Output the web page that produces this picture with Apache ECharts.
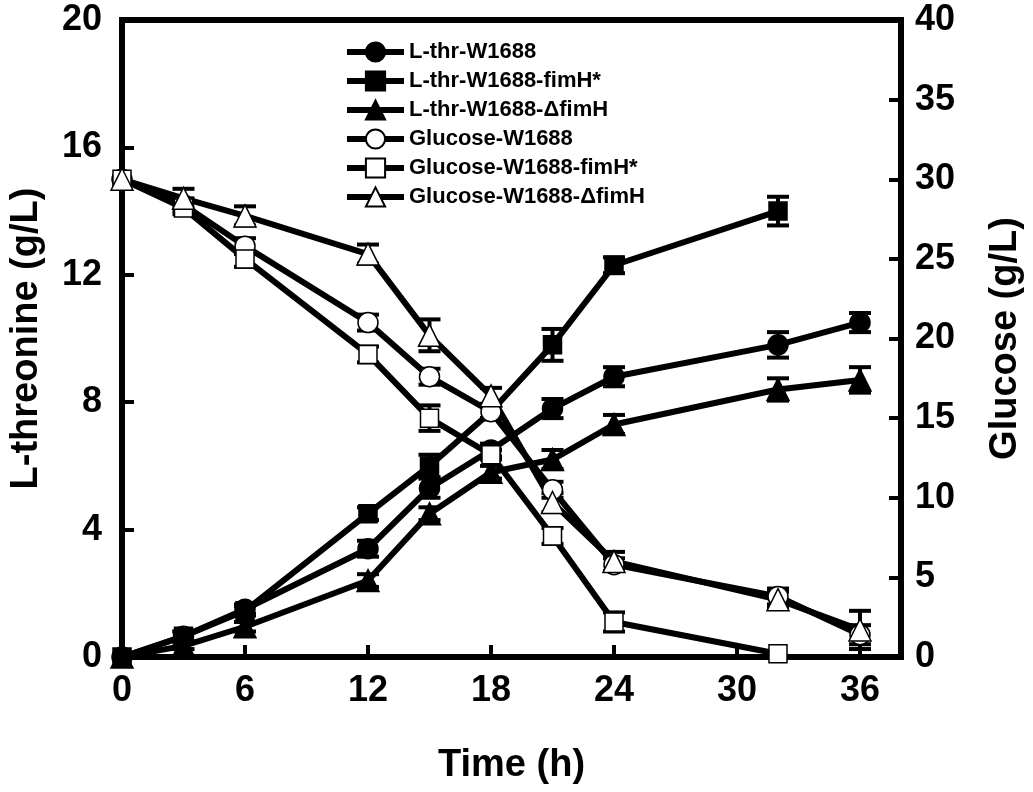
<!DOCTYPE html>
<html>
<head>
<meta charset="utf-8">
<script src="https://cdn.jsdelivr.net/npm/echarts@6/dist/echarts.min.js"></script>
<style>
  html, body { margin: 0; padding: 0; background: #fff; }
  #chart { width: 1033px; height: 792px; }
</style>
</head>
<body>
<div id="chart"></div>
<script>
// 采样时间 (h)
var times = [0, 3, 6, 12, 15, 18, 21, 24, 32, 36];

// L-苏氨酸 (g/L)
var thrW1688 = [0, 0.65, 1.5, 3.4, 5.3, 6.5, 7.8, 8.8, 9.8, 10.5];
var thrFimH = [0, 0.65, 1.45, 4.5, 6.0, 7.7, 9.8, 12.3, 14.0, null];
var thrDelta = [0, 0.35, 0.95, 2.4, 4.5, 5.8, 6.2, 7.3, 8.4, 8.7];
var thrW1688Err = [0, 0.15, 0.15, 0.25, 0.3, 0.2, 0.3, 0.3, 0.4, 0.3];
var thrFimHErr = [0, 0.15, 0.15, 0.2, 0.35, 0.2, 0.5, 0.25, 0.45, null];
var thrDeltaErr = [0, 0.1, 0.15, 0.2, 0.2, 0.2, 0.3, 0.3, 0.35, 0.4];

// 葡萄糖 (g/L)
var gluW1688 = [30, 28.4, 25.8, 21.0, 17.6, 15.4, 10.5, 5.8, 3.8, 1.4];
var gluFimH = [30, 28.2, 25.0, 19.0, 15.0, 12.7, 7.6, 2.2, 0.2, null];
var gluDelta = [30, 28.8, 27.7, 25.3, 20.2, 16.4, 9.7, 6.0, 3.6, 1.7];
var gluW1688Err = [0, 0.4, 0.5, 0.5, 0.5, 0.4, 0.5, 0.4, 0.5, 0.6];
var gluFimHErr = [0, 0.4, 0.5, 0.5, 0.8, 0.3, 0.5, 0.6, 0, null];
var gluDeltaErr = [0, 0.6, 0.6, 0.6, 1.0, 0.5, 0.6, 0.6, 0.5, 1.2];

var names = ['L-thr-W1688', 'L-thr-W1688-fimH*', 'L-thr-W1688-\u0394fimH',
  'Glucose-W1688', 'Glucose-W1688-fimH*', 'Glucose-W1688-\u0394fimH'];

var FONT = '"Liberation Sans", Arial, sans-serif';

function pairs(vals) {
  var out = [];
  for (var i = 0; i < times.length; i++) {
    if (vals[i] !== null) out.push([times[i], vals[i]]);
  }
  return out;
}

function errData(vals, errs) {
  var out = [];
  for (var i = 0; i < times.length; i++) {
    if (vals[i] !== null && errs[i]) out.push([times[i], vals[i], errs[i]]);
  }
  return out;
}

function lineSeries(name, vals, symbol, size, filled, yIdx) {
  return {
    name: name,
    type: 'line',
    yAxisIndex: yIdx,
    data: pairs(vals),
    symbol: symbol,
    symbolSize: size,
    showAllSymbol: true,
    lineStyle: { color: '#000', width: 6 },
    itemStyle: { color: filled ? '#000' : '#fff', borderColor: '#000', borderWidth: 1.5 },
    z: filled ? 3 : 4,
    animation: false
  };
}

// 误差棒
function errSeries(vals, errs, yIdx) {
  return {
    type: 'custom',
    yAxisIndex: yIdx,
    data: errData(vals, errs),
    z: 2,
    silent: true,
    animation: false,
    renderItem: function (params, api) {
      var x = api.value(0), y = api.value(1), e = api.value(2);
      var hi = api.coord([x, y + e]);
      var lo = api.coord([x, y - e]);
      var w = 11;
      var st = { stroke: '#000', lineWidth: 4 };
      return {
        type: 'group',
        children: [
          { type: 'line', shape: { x1: hi[0], y1: hi[1], x2: lo[0], y2: lo[1] }, style: st },
          { type: 'line', shape: { x1: hi[0] - w, y1: hi[1], x2: hi[0] + w, y2: hi[1] }, style: st },
          { type: 'line', shape: { x1: lo[0] - w, y1: lo[1], x2: lo[0] + w, y2: lo[1] }, style: st }
        ]
      };
    }
  };
}

var myChart = echarts.init(document.getElementById('chart'));
var axisLabelStyle = { fontFamily: FONT, fontWeight: 'bold', fontSize: 36, color: '#000' };
var axisNameStyle = { fontFamily: FONT, fontWeight: 'bold', fontSize: 38, color: '#000' };

var option = {
  backgroundColor: '#fff',
  animation: false,
  grid: {
    left: 118, right: 123, top: 20, bottom: 135,
    show: true, borderColor: '#000', borderWidth: 6, backgroundColor: 'transparent'
  },
  legend: {
    data: names,
    orient: 'vertical',
    left: 339,
    top: 36,
    itemWidth: 57,
    itemHeight: 24,
    itemGap: 7,
    lineStyle: { width: 6, color: '#000' },
    textStyle: { fontFamily: FONT, fontWeight: 'bold', fontSize: 22, color: '#000' },
    selectedMode: false
  },
  xAxis: {
    type: 'value',
    min: 0, max: 38, interval: 6,
    name: 'Time (h)',
    nameLocation: 'middle',
    nameGap: 90,
    nameTextStyle: axisNameStyle,
    axisLine: { lineStyle: { color: '#000', width: 6 } },
    axisTick: { inside: true, length: 12, lineStyle: { color: '#000', width: 4 } },
    axisLabel: Object.assign({ margin: 16, formatter: function (v) { return v % 6 === 0 ? v : ''; } }, axisLabelStyle),
    splitLine: { show: false }
  },
  yAxis: [{
    type: 'value',
    min: 0, max: 20, interval: 4,
    name: 'L-threonine (g/L)',
    nameLocation: 'middle',
    nameRotate: 90,
    nameGap: 76,
    nameTextStyle: axisNameStyle,
    axisLine: { show: true, lineStyle: { color: '#000', width: 6 } },
    axisTick: { inside: true, length: 12, lineStyle: { color: '#000', width: 4 } },
    axisLabel: Object.assign({ margin: 20 }, axisLabelStyle),
    splitLine: { show: false }
  }, {
    type: 'value',
    position: 'right',
    min: 0, max: 40, interval: 5,
    name: 'Glucose (g/L)',
    nameLocation: 'middle',
    nameRotate: 90,
    nameGap: 86,
    nameTextStyle: axisNameStyle,
    axisLine: { show: true, lineStyle: { color: '#000', width: 6 } },
    axisTick: { inside: true, length: 12, lineStyle: { color: '#000', width: 4 } },
    axisLabel: Object.assign({ margin: 14 }, axisLabelStyle),
    splitLine: { show: false }
  }],
  series: [
    errSeries(thrW1688, thrW1688Err, 0),
    errSeries(thrFimH, thrFimHErr, 0),
    errSeries(thrDelta, thrDeltaErr, 0),
    errSeries(gluW1688, gluW1688Err, 1),
    errSeries(gluFimH, gluFimHErr, 1),
    errSeries(gluDelta, gluDeltaErr, 1),
    lineSeries(names[0], thrW1688, 'circle', 20, true, 0),
    lineSeries(names[1], thrFimH, 'rect', 18, true, 0),
    lineSeries(names[2], thrDelta, 'triangle', 22, true, 0),
    lineSeries(names[3], gluW1688, 'circle', 20, false, 1),
    lineSeries(names[4], gluFimH, 'rect', 18, false, 1),
    lineSeries(names[5], gluDelta, 'triangle', 22, false, 1)
  ]
};
myChart.setOption(option);
</script>
</body>
</html>
